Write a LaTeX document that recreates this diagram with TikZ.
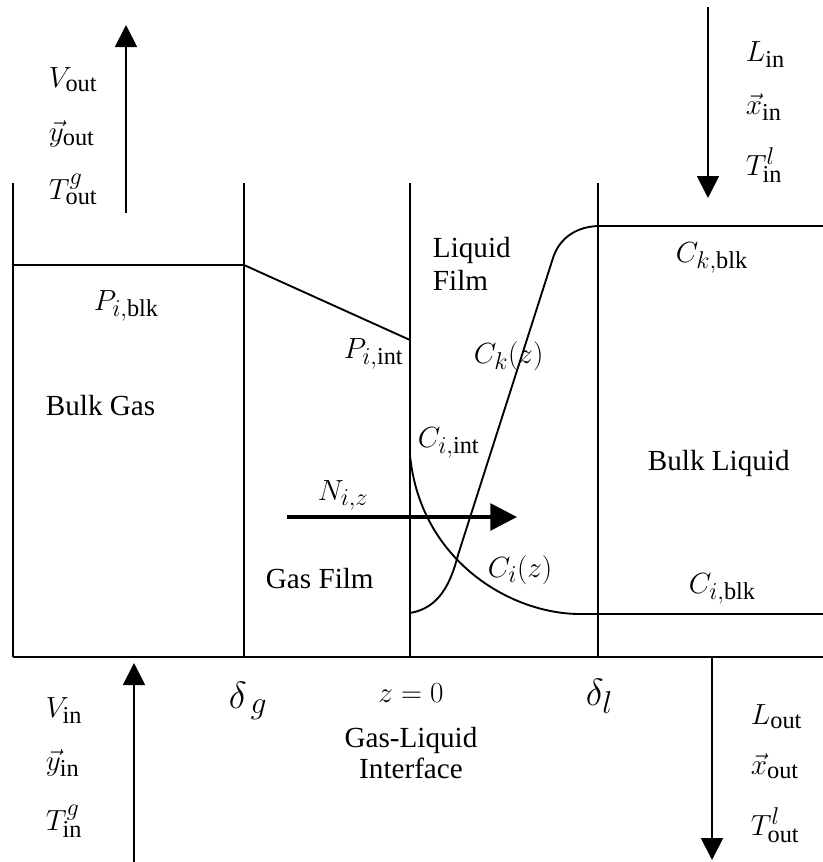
\documentclass[tikz,border=0pt]{standalone}
\usepackage{graphicx}
\usepackage{fontspec}
\setmainfont{Liberation Serif}
\usetikzlibrary{arrows.meta}

\begin{document}
\begin{tikzpicture}[x=0.03cm, y=-0.03cm, line width=1.6pt,
		font=\Huge,
		lbl/.style={anchor=base west, inner sep=0pt},
		lblc/.style={anchor=base, inner sep=0pt},
		flow/.style={-{Triangle[length=6.6mm, width=6.6mm]}},
		flux/.style={line width=3.2pt, -{Triangle[length=8mm, width=8mm]}}]
	
	% 1. Canvas (pixel units, y downwards)
	\def\xmax{823}
	\def\ytop{183}
	\def\ybot{657}
	\useasboundingbox (0,0) rectangle (\xmax,862);
	
	% 2. Film boundaries: bulk gas | gas film | liquid film | bulk liquid
	\coordinate (wall) at (13,\ybot);
	\coordinate (dg) at (244,\ybot);
	\coordinate (z0) at (410,\ybot);
	\coordinate (dl) at (598,\ybot);
	\coordinate (rgt) at (\xmax,\ybot);
	\foreach \p in {wall, dg, z0, dl}
	\draw (\p) -- (\p |- 0,\ytop);
	\draw (wall) -- (rgt);
	
	% 3. Partial pressure profile
	\coordinate (pblk) at (13,265);
	\coordinate (pdg) at (244,265);
	\coordinate (pint) at (410,340);
	\draw (pblk) -- (pdg) -- (pint);
	
	% 4. Concentration profiles
	\coordinate (ciint) at (410,455);
	\coordinate (ciend) at (580,614);
	\draw (ciint) .. controls (420,560) and (510,614) .. (ciend) -- (\xmax,614);
	\coordinate (ck0) at (410,613);
	\coordinate (cka) at (458,555);
	\coordinate (ckb) at (553,258);
	\coordinate (ckend) at (598,226);
	\draw (ck0) .. controls (440,608) and (451,582) .. (cka) -- (ckb)
	.. controls (558,242) and (572,227) .. (ckend) -- (\xmax,226);
	
	% 5. Flux across the interface
	\coordinate (nfrom) at (287,517);
	\coordinate (nto) at (517,517);
	\draw[flux] (nfrom) -- (nto);
	
	% 6. Gas and liquid streams
	\coordinate (vo1) at (126,213);
	\coordinate (vo2) at (126,25);
	\draw[flow] (vo1) -- (vo2);
	\coordinate (li1) at (708,7);
	\coordinate (li2) at (708,198);
	\draw[flow] (li1) -- (li2);
	\coordinate (vi1) at (134,862);
	\coordinate (vi2) at (134,663);
	\draw[flow] (vi1) -- (vi2);
	\coordinate (lo1) at (712,\ybot);
	\coordinate (lo2) at (712,860);
	\draw[flow] (lo1) -- (lo2);
	
	% 7. Stream labels
	\node[lbl] (Vout) at (48,87) {$V_{\mathrm{out}}$};
	\node[lbl] (yout) at (48,141) {$\vec{y}_{\mathrm{out}}$};
	\node[lbl] (Tout) at (48,199) {$T^{g}_{\mathrm{out}}$};
	\node[lbl] (Lin) at (745,61) {$L_{\mathrm{in}}$};
	\node[lbl] (xin) at (745,114) {$\vec{x}_{\mathrm{in}}$};
	\node[lbl] (Tin) at (745,175) {$T^{l}_{\mathrm{in}}$};
	\node[lbl] (Vin) at (45,717) {$V_{\mathrm{in}}$};
	\node[lbl] (yin) at (45,770) {$\vec{y}_{\mathrm{in}}$};
	\node[lbl] (Tgin) at (45,830) {$T^{g}_{\mathrm{in}}$};
	\node[lbl] (Lout) at (750,724) {$L_{\mathrm{out}}$};
	\node[lbl] (xout) at (750,774) {$\vec{x}_{\mathrm{out}}$};
	\node[lbl] (Tlout) at (750,835) {$T^{l}_{\mathrm{out}}$};
	
	% 8. Region and profile labels
	\node[lbl] (Pblk) at (93,310) {$P_{i,\mathrm{blk}}$};
	\node[lbl] (bgas) at (45,415) {Bulk Gas};
	\node[lbl] (lfilm1) at (432,257) {Liquid};
	\node[lbl] (lfilm2) at (432,290) {Film};
	\node[lbl] (Pint) at (343,358) {$P_{i,\mathrm{int}}$};
	\node[lbl] (Ckz) at (473,363) {$C_k(z)$};
	\node[lbl] (Ciint) at (417,447) {$C_{i,\mathrm{int}}$};
	\node[lbl] (Niz) at (317,500) {$N_{i,z}$};
	\node[lbl] (bliq) at (647,470) {Bulk Liquid};
	\node[lbl] (Ciz) at (487,577) {$C_i(z)$};
	\node[lbl] (gfilm) at (265,588) {Gas Film};
	\node[lbl] (Ckblk) at (675,262) {$C_{k,\mathrm{blk}}$};
	\node[lbl] (Ciblk) at (688,593) {$C_{i,\mathrm{blk}}$};
	
	% 9. Axis labels
	\node[lbl] (lbldg) at (228,708) {\scalebox{1.3}{$\delta_{\,g}$}};
	\node[lblc] (lblz) at (411,702) {$z=0$};
	\node[lbl] (lbldl) at (585,705) {\scalebox{1.3}{$\delta_l$}};
	\node[lblc] (iface1) at (411,747) {Gas-Liquid};
	\node[lblc] (iface2) at (411,778) {Interface};
	
\end{tikzpicture}
\end{document}
